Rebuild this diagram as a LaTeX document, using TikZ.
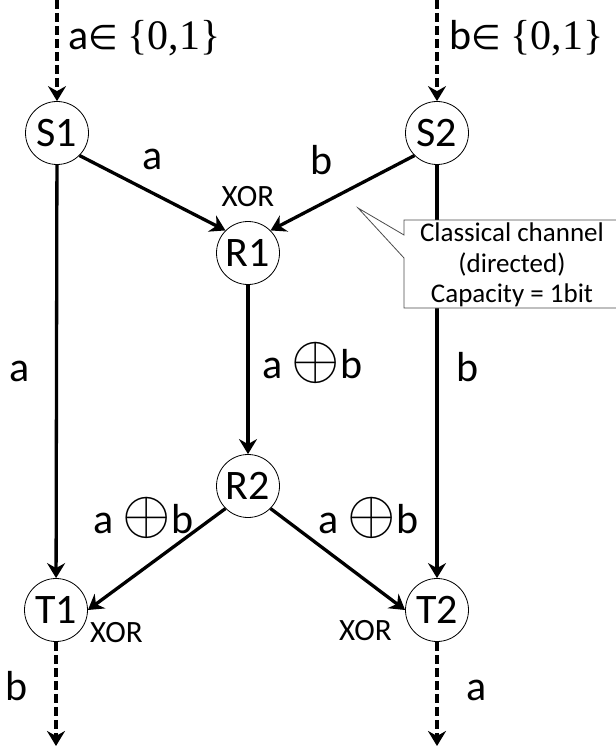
\documentclass[tikz,border=0pt]{standalone}
\usepackage{fontspec}
\usepackage{graphicx}
\setmainfont{Carlito}
\newfontfamily\brfont{Liberation Serif}
\newfontfamily\symf{DejaVu Sans}
\usetikzlibrary{arrows.meta}
\newcommand{\xin}{{\symf\fontsize{34}{40}\selectfont ∈}}
\newcommand{\xop}{\scalebox{2.5}{$\oplus$}}
\tikzset{
  nd/.style={circle, draw, line width=0.8pt, minimum size=63pt, inner sep=0pt, font=\fontsize{42}{48}\selectfont},
  lbl/.style={font=\fontsize{42}{48}\selectfont, inner sep=0pt},
  xorlbl/.style={font=\fontsize{31}{35}\selectfont, inner sep=0pt},
  conn/.style={line width=3.3pt, -{Stealth[length=15pt,width=18pt,inset=5pt]}},
  dconn/.style={conn, dash pattern=on 9pt off 4pt},
  callout/.style={draw=black!70, line width=0.8pt, fill=white},
}
\begin{document}
\begin{tikzpicture}[x=1pt,y=-1pt]
\useasboundingbox (0,0) rectangle (615,751);
% nodes
\node[nd] (S1) at (57,133) {S1};
\node[nd] (S2) at (437,133) {S2};
\node[nd] (R1) at (248,253) {R1};
\node[nd] (R2) at (248,486) {R2};
\node[nd] (T1) at (56,610) {T1};
\node[nd] (T2) at (437,610) {T2};
\coordinate (inA) at (57,0);
\coordinate (inB) at (437,0);
\coordinate (outA) at (56,746);
\coordinate (outB) at (437,746);
% connectors
\draw[dconn] (inA) -- (S1);
\draw[dconn] (inB) -- (S2);
\draw[conn] (S1.south east) -- (R1.north west);
\draw[conn] (S2.south west) -- (R1.north east);
\draw[conn] (S1) -- (T1);
\draw[conn] (S2) -- (T2);
\draw[conn] (R1) -- (R2);
\draw[conn] (R2.south west) -- (T1.east);
\draw[conn] (R2.south east) -- (T2.west);
\draw[dconn] (T1) -- (outA);
\draw[dconn] (T2) -- (outB);
% callout
\draw[callout] (404,220) -- (625,220) -- (625,308) -- (404,308) -- (404,258) -- (358,208) -- (404,235) -- cycle;
\node[align=center, inner sep=0pt, font=\fontsize{27}{30.5}\selectfont] (cap) at (512,265)
  {Classical channel\\(directed)\\Capacity = 1bit};
% labels
\node[lbl, anchor=base west] (la) at (68,50) {a\xin\ {\brfont\fontsize{42}{46}\selectfont\{0,1\}}};
\node[lbl, anchor=base west] (lb) at (449,50) {b\xin\ {\brfont\fontsize{42}{46}\selectfont\{0,1\}}};
\node[lbl, anchor=base] (l1) at (153,170) {a};
\node[lbl, anchor=base] (l2) at (322,175) {b};
\node[xorlbl, anchor=base] (x1) at (248,207) {XOR};
\node[lbl, anchor=base] (l3) at (20,381) {a};
\node[lbl, anchor=base] (l4) at (468,381) {b};
\node[lbl, anchor=base west] (l5) at (262,378) {a \xop b};
\node[lbl, anchor=base west] (l6) at (93,533) {a \xop b};
\node[lbl, anchor=base west] (l7) at (318,533) {a \xop b};
\node[xorlbl, anchor=base west] (x2) at (90,642) {XOR};
\node[xorlbl, anchor=base east] (x3) at (392,640) {XOR};
\node[lbl, anchor=base] (l8) at (17,700) {b};
\node[lbl, anchor=base] (l9) at (477,700) {a};
\end{tikzpicture}
\end{document}
